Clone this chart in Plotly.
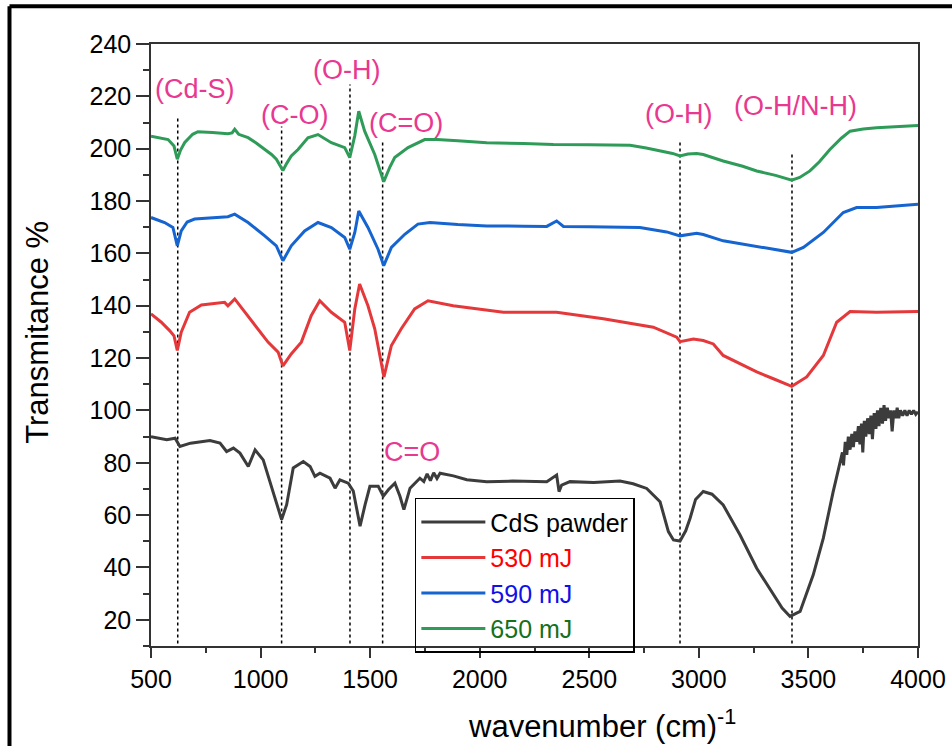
import plotly.graph_objects as go

# ---------------- data ----------------
wn_cds = [500, 572, 610, 632, 680, 724, 769, 815, 845, 876, 906, 944, 975, 1012, 1043, 1073, 1096, 1119,
          1149, 1195, 1226, 1248, 1271, 1317, 1340, 1362, 1400, 1423, 1454, 1477, 1499, 1537, 1560, 1583,
          1613, 1636, 1654, 1682, 1727, 1745, 1760, 1775, 1790, 1805, 1819, 1880, 1941, 2032, 2150, 2306,
          2351, 2362, 2374, 2412, 2520, 2640, 2700, 2762, 2823, 2861, 2884, 2914, 2940, 2960, 2985, 3020,
          3060, 3111, 3188, 3264, 3340, 3380, 3416, 3462, 3522, 3568, 3613, 3630, 3644, 3655, 3660, 3668,
          3675, 3682, 3690, 3698, 3705, 3712, 3720, 3728, 3735, 3742, 3748, 3755, 3762, 3770, 3778, 3785,
          3792, 3800, 3808, 3815, 3822, 3830, 3838, 3845, 3852, 3860, 3868, 3875, 3882, 3890, 3898, 3905,
          3912, 3920, 3930, 3940, 3950, 3960, 3970, 3980, 3990, 4000]
t_cds = [90.0, 88.8, 89.4, 86.2, 87.5, 87.9, 88.5, 87.5, 84.3, 85.6, 83.7, 78.6, 84.9, 81.1, 72.9, 64.0, 58.3, 64.0,
         78.0, 80.5, 78.6, 74.8, 76.0, 74.1, 70.3, 73.5, 72.2, 69.2, 55.8, 64.0, 71.0, 71.0, 67.2, 69.7,
         72.2, 67.2, 62.1, 70.3, 74.1, 72.8, 75.8, 73.2, 76.2, 74.0, 76.0, 75.0, 73.5, 72.8, 73.0, 72.8,
         75.3, 69.0, 71.5, 72.8, 72.5, 73.0, 72.0, 70.2, 65.1, 53.7, 50.5, 50.1, 54.0, 58.8, 66.0, 69.0,
         68.0, 63.9, 52.4, 39.7, 29.6, 24.5, 21.3, 23.2, 37.2, 51.2, 69.0, 75.0, 80.0, 84.0, 79.0, 88.0,
         83.0, 90.0, 85.0, 91.0, 86.0, 92.0, 88.0, 94.0, 87.0, 95.0, 84.0, 96.0, 90.0, 97.0, 91.0, 98.0,
         89.0, 99.0, 93.0, 100.0, 94.0, 101.0, 95.0, 102.0, 96.0, 101.0, 97.0, 100.0, 92.0, 100.0, 97.0, 101.0,
         97.0, 100.0, 98.0, 100.0, 98.0, 100.0, 98.5, 100.0, 98.5, 99.5]

wn_530 = [500, 547, 585, 605, 620, 638, 676, 730, 836, 851, 882, 928, 988, 1034, 1080, 1102, 1140, 1186,
          1231, 1270, 1323, 1384, 1407, 1430, 1452, 1490, 1521, 1563, 1597, 1642, 1703, 1764, 1879, 2108,
          2351, 2564, 2792, 2899, 2914, 2975, 3020, 3066, 3111, 3264, 3340, 3424, 3492, 3568, 3629, 3690,
          3811, 3900, 4000]
t_530 = [136.9, 133.7, 130.5, 128.5, 122.9, 129.9, 137.5, 140.3, 141.3, 140.0, 142.6, 137.5, 131.2, 126.1,
         122.3, 117.0, 121.6, 126.1, 136.2, 141.9, 137.5, 133.7, 122.9, 138.8, 148.3, 140.0, 131.2, 112.8,
         124.8, 131.2, 138.8, 141.9, 140.0, 137.5, 137.5, 135.0, 131.8, 128.0, 126.3, 127.3, 126.7, 125.4,
         121.0, 114.7, 112.1, 109.2, 112.8, 121.0, 133.7, 137.8, 137.5, 137.6, 137.8]

wn_590 = [500, 562, 600, 620, 638, 665, 699, 780, 851, 882, 943, 1019, 1072, 1102, 1140, 1201, 1262, 1323,
          1384, 1407, 1430, 1448, 1490, 1536, 1562, 1597, 1658, 1718, 1773, 1900, 2032, 2200, 2306, 2351,
          2382, 2500, 2731, 2853, 2914, 2990, 3020, 3111, 3264, 3350, 3424, 3477, 3568, 3659, 3720, 3811,
          3900, 4000]
t_590 = [173.7, 171.8, 169.9, 162.9, 168.6, 172.0, 173.1, 173.5, 174.0, 175.0, 171.8, 166.7, 162.9, 157.2,
         162.9, 168.6, 171.8, 169.9, 166.1, 161.6, 168.0, 176.2, 169.9, 161.6, 155.3, 162.3, 167.3, 171.2,
         171.8, 171.0, 170.5, 170.4, 170.3, 172.4, 170.3, 170.2, 169.9, 168.2, 166.7, 167.7, 167.2, 164.8,
         162.7, 161.6, 160.4, 162.3, 168.0, 175.6, 177.5, 177.5, 178.2, 178.8]

wn_650 = [500, 540, 578, 605, 620, 635, 654, 690, 714, 780, 851, 870, 882, 900, 943, 980, 1019, 1050, 1072,
          1102, 1120, 1140, 1171, 1216, 1262, 1290, 1323, 1384, 1407, 1430, 1448, 1475, 1521, 1562, 1590,
          1612, 1673, 1749, 1804, 1900, 2032, 2200, 2336, 2500, 2686, 2760, 2823, 2880, 2914, 2950, 2990,
          3020, 3111, 3200, 3264, 3350, 3424, 3460, 3507, 3550, 3598, 3650, 3690, 3750, 3811, 3900, 4000]
t_650 = [204.8, 204.2, 203.5, 201.0, 196.0, 199.5, 202.4, 205.5, 206.5, 206.2, 205.7, 206.0, 207.4, 205.5,
         204.2, 202.2, 199.7, 197.8, 196.0, 191.7, 194.5, 197.2, 199.7, 204.2, 205.4, 204.0, 202.3, 200.4,
         196.6, 205.0, 214.3, 206.7, 197.8, 187.4, 193.0, 196.6, 200.4, 203.5, 203.5, 203.0, 202.3, 202.0,
         201.6, 201.5, 201.3, 200.3, 199.1, 198.2, 197.2, 198.0, 198.2, 197.8, 195.3, 193.3, 191.5, 189.8,
         188.0, 189.0, 191.5, 195.0, 199.7, 204.0, 206.7, 207.5, 208.0, 208.4, 208.9]

series_names = ["CdS pawder", "530 mJ", "590 mJ", "650 mJ"]

# assigned bands (dotted guide lines)
band_wn = [622, 1096, 1408, 1557, 2914, 3425]
band_top = [212.3, 208.5, 224.5, 202.8, 203.5, 198.0]
band_bottom = 11.0

band_labels = ["(Cd-S)", "(C-O)", "(O-H)", "(C=O)", "(O-H)", "(O-H/N-H)", "C=O"]
label_wn = [701, 1153, 1394, 1664, 2905, 3440, 1691]
label_t = [223.0, 212.7, 230.2, 210.0, 213.4, 216.5, 84.3]

x_title = "wavenumber (cm)<sup>-1</sup>"
y_title = "Transmitance %"

# ---------------- figure ----------------
line_colors = ["#3c3c3c", "#e5383b", "#1664cf", "#2f9b58"]
text_colors = ["#000000", "#ff0000", "#1010e8", "#17701a"]
FONT = "Arial, Liberation Sans, sans-serif"

fig = go.Figure()
for wn, t, name, lc, tc in zip([wn_cds, wn_530, wn_590, wn_650], [t_cds, t_530, t_590, t_650],
                               series_names, line_colors, text_colors):
    fig.add_trace(go.Scatter(
        x=wn, y=t, mode="lines", line=dict(color=lc, width=3),
        name=f'<span style="color:{tc}">{name}</span>'))

for xw, yt in zip(band_wn, band_top):
    fig.add_shape(type="line", xref="x", yref="y", x0=xw, x1=xw, y0=band_bottom, y1=yt,
                  line=dict(color="black", width=1.5, dash="3px,3px"), layer="below")

for txt, xw, yt in zip(band_labels, label_wn, label_t):
    fig.add_annotation(x=xw, y=yt, xref="x", yref="y", text=txt, showarrow=False,
                       font=dict(family=FONT, size=27, color="#e8388f"))

# axis titles (placed as in the original figure)
fig.add_annotation(x=0.588, y=-0.1290, xref="paper", yref="paper", text=x_title, showarrow=False,
                   xanchor="center", yanchor="middle", font=dict(family=FONT, size=31, color="black"))
fig.add_annotation(x=-0.1473, y=0.5204, xref="paper", yref="paper", text=y_title, showarrow=False,
                   textangle=-90, xanchor="center", yanchor="middle",
                   font=dict(family=FONT, size=31, color="black"))

# outer frame (left and top edges of the figure border)
fig.add_shape(type="line", xref="paper", yref="paper", x0=-0.1845, x1=1.1, y0=1.0628, y1=1.0628,
              line=dict(color="black", width=4))
fig.add_shape(type="line", xref="paper", yref="paper", x0=-0.1845, x1=-0.1845, y0=1.0628, y1=-0.2,
              line=dict(color="black", width=4))

fig.update_layout(
    width=952, height=746,
    margin=dict(l=151, r=34, t=44, b=100, autoexpand=False),
    paper_bgcolor="white", plot_bgcolor="white",
    font=dict(family=FONT, color="black"),
    showlegend=True,
    legend=dict(x=0.344, y=0.2463, xanchor="left", yanchor="top", itemwidth=64,
                bordercolor="black", borderwidth=1.5, bgcolor="rgba(255,255,255,0)",
                font=dict(family=FONT, size=25), tracegroupgap=0),
)
fig.update_xaxes(
    range=[500, 4000], tick0=500, dtick=500, ticks="outside", ticklen=10, tickwidth=1.5,
    tickcolor="#333", showline=True, linecolor="#333", linewidth=1.5, mirror=True,
    showgrid=False, zeroline=False, tickfont=dict(family=FONT, size=25, color="black"),
    minor=dict(dtick=250, ticks="outside", ticklen=5, tickwidth=1.5, tickcolor="#333"),
)
fig.update_yaxes(
    range=[10, 240], tick0=0, dtick=20, ticks="outside", ticklen=13, tickwidth=1.5,
    tickcolor="#333", showline=True, linecolor="#333", linewidth=1.5, mirror=True,
    showgrid=False, zeroline=False, tickfont=dict(family=FONT, size=25, color="black"),
    minor=dict(dtick=10, ticks="outside", ticklen=6, tickwidth=1.5, tickcolor="#333"),
)

fig.write_html("out.html")
